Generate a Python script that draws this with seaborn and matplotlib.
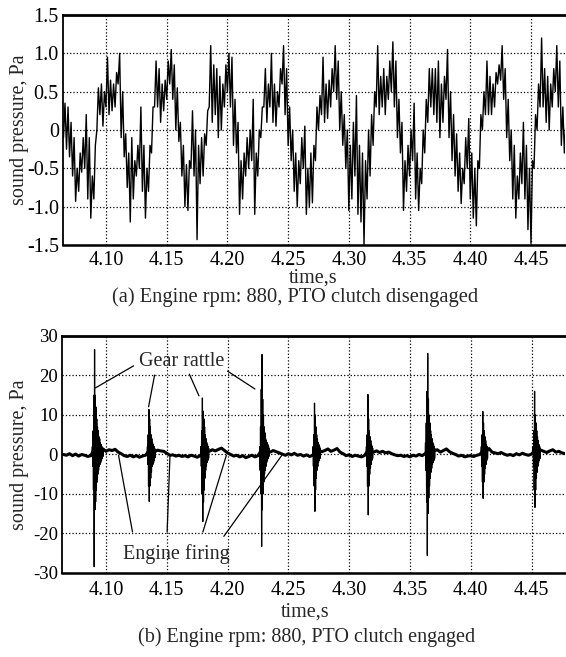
import numpy as np
import pandas as pd
import matplotlib
matplotlib.use("Agg")
import matplotlib.pyplot as plt
import seaborn as sns

# ---------------- values ----------------

# (a) PTO clutch disengaged: lower / upper edge of the trace band, every 2.5 ms from 4.065 s
t0_a = 4.065
dt_a = 0.0025
low_a = [-0.10, -0.25, -0.35, -0.60, -0.93, -0.80, -0.55, -0.50, -0.90, -1.15,
         -0.90, 0.00, 0.20, 0.05, 0.30, 0.20, 0.25, 0.30, 0.60, -0.10,
         -0.35, -0.75, -1.20, -0.90, -0.60, -0.50, -0.80, -1.15, -0.80, -0.30,
         0.30, 0.30, 0.10, 0.25, 0.40, 0.60, 0.40, 0.00, -0.15, -0.60,
         -1.00, -1.05, -0.50, -0.60, -1.43, -0.70, -0.60, -0.20, 0.30, 0.10,
         0.20, -0.10, 0.00, 0.30, 0.50, 0.30, -0.20, -0.30, -1.10, -0.90,
         -0.60, -0.50, -0.40, -1.10, -0.60, -0.10, 0.30, 0.10, 0.30, 0.10,
         0.05, 0.30, 0.60, 0.20, -0.20, -0.40, -0.80, -1.00, -0.70, -0.50,
         -1.10, -1.00, -0.95, -0.40, 0.00, 0.20, 0.10, 0.15, 0.30, 0.50,
         0.40, 0.00, -0.20, -0.50, -1.05, -0.90, -0.60, -1.10, -1.20, -1.50,
         -0.90, -0.60, -0.20, 0.30, 0.20, 0.30, 0.20, 0.40, 0.50, 0.30,
         -0.10, -0.30, -1.05, -0.80, -0.60, -0.40, -0.90, -1.05, -0.70, -0.30,
         0.10, 0.30, 0.20, 0.10, -0.10, 0.10, 0.40, -0.10, -0.40, -0.60,
         -0.80, -0.96, -0.70, -0.50, -0.90, -1.15, -1.25, -0.50, 0.00, 0.20,
         0.20, 0.20, 0.30, 0.60, 0.65, 0.40, -0.10, -0.40, -0.90, -1.15,
         -0.90, -0.70, -0.90, -1.30, -1.48, -0.50, 0.00, 0.30, 0.30, 0.10,
         0.00, 0.30, 0.50, 0.30, -0.20, -0.30]
high_a = [0.35, 0.30, 0.10, -0.10, -0.50, -0.30, -0.10, 0.20, -0.10, -0.60,
          -0.20, 0.55, 0.60, 0.50, 0.95, 0.65, 0.60, 0.75, 1.00, 0.50,
          -0.05, -0.30, -0.10, -0.40, -0.20, 0.30, -0.20, -0.50, -0.20, 0.30,
          0.90, 0.80, 0.60, 0.65, 0.90, 1.05, 0.85, 0.55, 0.10, -0.20,
          -0.45, -0.40, 0.25, 0.00, -0.20, -0.10, -0.05, 0.25, 1.10, 0.85,
          0.80, 0.70, 0.60, 0.85, 1.00, 0.95, 0.40, 0.10, -0.40, -0.30,
          -0.10, 0.00, 0.40, -0.30, 0.00, 0.30, 0.80, 0.60, 1.00, 0.60,
          0.50, 0.80, 1.10, 0.80, 0.30, 0.00, -0.30, -0.40, -0.10, 0.05,
          -0.50, -0.30, -0.20, 0.30, 0.45, 0.95, 0.60, 0.65, 0.80, 1.10,
          0.90, 0.50, 0.20, 0.00, -0.20, 0.10, 0.45, -0.20, -0.30, -0.40,
          0.00, 0.20, 0.50, 1.10, 0.70, 0.80, 0.70, 0.90, 1.15, 0.90,
          0.40, 0.10, -0.40, -0.20, 0.00, 0.35, -0.30, -0.50, 0.00, 0.40,
          0.80, 0.80, 0.80, 0.90, 0.60, 0.70, 1.05, 0.50, 0.20, -0.05,
          -0.30, -0.50, -0.10, 0.15, -0.30, -0.50, -0.40, 0.20, 0.50, 0.90,
          0.70, 0.60, 0.75, 0.85, 1.10, 0.80, 0.40, 0.00, -0.20, -0.60,
          -0.30, 0.10, -0.20, -0.50, -0.40, 0.20, 0.60, 1.20, 0.80, 0.70,
          0.60, 0.80, 1.10, 0.90, 0.30, 0.10]

# (b) PTO clutch engaged: slow baseline every 2.5 ms from 4.065 s
base_b = [0.0, -0.2, 0.2, -0.3, 0.1, -0.4, 0.0, -0.2, -0.5, -0.3,
          1.2, 1.5, 1.0, 1.4, 0.8, 1.2, 1.0, 1.3, 0.6, 0.2,
          -0.3, -0.5, -0.2, -0.6, -0.3, -0.7, -0.4, -0.2,
          0.8, 1.0, 0.7, 1.1, 0.9, 0.8, 0.3, -0.2, -0.1, -0.4,
          -0.2, -0.5, -0.3, -0.6, -0.2, -0.4, -0.7, -0.3,
          0.6, 1.0, 0.8, 1.2, 0.9, 1.3, 1.6, 1.0, 0.4, 0.0,
          -0.4, -0.2, -0.6, -0.3, -0.8, -0.5, -0.2, -0.6, -0.3,
          0.9, 1.2, 0.8, 0.6, 1.0, 0.7, 0.4, 0.1, -0.2, 0.2,
          -0.1, 0.3, -0.2, 0.0, -0.4, -0.1, -0.5, -0.2,
          0.9, 1.1, 0.7, 1.0, 1.4, 0.8, 1.1, 1.5, 0.6, 0.2,
          -0.3, -0.1, -0.5, -0.2, -0.4, -0.6, -0.3,
          0.8, 1.0, 0.6, 0.9, 0.5, 0.8, 0.4, 0.6, 0.2, -0.1, -0.3,
          -0.2, -0.5, -0.3, -0.6, -0.2, -0.4, 0.0, -0.3, 0.2,
          1.0, 1.3, 0.9, 1.2, 0.6, 1.0, 1.4, 0.7, 0.3, 0.0, -0.4,
          -0.2, -0.6, -0.4, -0.3, -0.5, -0.2, 0.0,
          1.0, 0.8, 1.5, 0.6, 0.4, 0.2, 0.5, 0.1, -0.2, 0.0, -0.3,
          0.2, -0.1, 0.3, 0.0, -0.2, 0.1,
          1.0, 0.7, 1.1, 0.8, 0.5, 0.9, 1.2, 0.6, 0.8, 0.4, 0.2]

# gear rattle bursts: start time and samples every 0.3 ms
dt_burst = 0.0003
burst_start = [4.0885, 4.1338, 4.1778, 4.2262, 4.2700, 4.3139, 4.3625, 4.4084, 4.4510]
burst_1 = [0, 2, -3, 6, -9, 15, -28.4, 26.6, -14, 15, -12, 12, -9, 9, -7, 7, -5, 6,
           -4, 4.5, -3, 4, -2.5, 3, -2, 2.5, -1.5, 2, -1, 1.5, -0.5, 1.2]
burst_2 = [0, 2, -2.5, 5, -8, 11.4, -11.9, 9, -8, 7, -6, 5, -4.5, 4, -3, 3, -2.5, 2.5,
           -2, 2, -1.5, 1.5, -0.8, 1.2]
burst_3 = [0, 2, -3, 6, -10, 14.3, -17, 11, -12, 9, -9, 7, -6, 5, -4, 4, -3, 3,
           -2, 2.5, -1.5, 2, -1, 1.5]
burst_4 = [0, 2, -4, 7, -10, 16.5, -23.3, 25.3, -14, 14, -10, 10, -7, 7, -5, 5.5, -4, 4,
           -3, 3.5, -2, 3, -1.5, 2.5, -1, 2, -0.5, 1.5]
burst_5 = [0, 2, -3, 5, -8, 13, -14.4, 10, -9, 7, -6, 5, -4, 4, -3, 3, -2, 2.5,
           -1.5, 2, -1, 1.5]
burst_6 = [0, 2, -3, 5, -8, 15.2, -15.3, 9, -8, 6, -5, 4.5, -3.5, 3.5, -2.5, 2.5, -1.5, 2,
           -1, 1.5]
burst_7 = [0, 3, -4, 8, -12, 16, -25.6, 25.6, -15, 14, -11, 10, -8, 8, -6, 6, -4.5, 5,
           -3.5, 4, -2.5, 3, -2, 2.5, -1.5, 2, -1, 1.5]
burst_8 = [0, 2, -3, 5, -7, 10.9, -11.1, 8, -7, 6, -5, 4.5, -3.5, 3.5, -2.5, 2.5, -1.5, 2,
           -1, 1.5]
burst_9 = [0, 2, -3, 6, -9, 16, -13.4, 10, -9, 8, -6, 6, -4.5, 4.5, -3, 3.5, -2, 2.5,
           -1.5, 2, -1, 1.5]
bursts = [burst_1, burst_2, burst_3, burst_4, burst_5, burst_6, burst_7, burst_8, burst_9]

ticks_a = [-1.5, -1.0, -0.5, 0, 0.5, 1.0, 1.5]
ticklabels_a = ["-1.5", "-1.0", "-0.5", "0", "0.5", "1.0", "1.5"]
ticks_b = [-30, -20, -10, 0, 10, 20, 30]
ticklabels_b = ["-30", "-20", "-10", "0", "10", "20", "30"]
ticks_t = [4.10, 4.15, 4.20, 4.25, 4.30, 4.35, 4.40, 4.45]
ticklabels_t = ["4.10", "4.15", "4.20", "4.25", "4.30", "4.35", "4.40", "4.45"]

# ---------------- build tables ----------------
k = np.arange(len(low_a))
t_a = t0_a + dt_a * k
df_a = pd.DataFrame({"time": np.concatenate([t_a, t_a + dt_a / 2]),
                     "p": np.concatenate([low_a, high_a])}).sort_values("time")

df_base = pd.DataFrame({"time": t0_a + dt_a * np.arange(len(base_b)), "p": base_b})

rows = []
for i, (start, vals) in enumerate(zip(burst_start, bursts)):
    for j, v in enumerate(vals):
        rows.append({"burst": i, "time": start + j * dt_burst, "p": v})
df_burst = pd.DataFrame(rows)

# ---------------- style ----------------
sns.set_style("white")
plt.rcParams["font.family"] = ["Liberation Serif", "DejaVu Serif"]
plt.rcParams["axes.unicode_minus"] = False
fs = 14.5

fig = plt.figure(figsize=(5.66, 6.57), dpi=100)
ax1 = fig.add_axes([0.1113, 0.6271, 0.8869, 0.3501])
ax2 = fig.add_axes([0.1095, 0.1279, 0.8887, 0.3607])

# (a) disengaged
sns.lineplot(data=df_a, x="time", y="p", ax=ax1, color="black", lw=1.0,
             estimator=None, sort=False)
ax1.set_xlim(4.0646, 4.478)
ax1.set_ylim(-1.5, 1.5)
ax1.set_yticks(ticks_a)
ax1.set_yticklabels(ticklabels_a)

# (b) engaged
sns.lineplot(data=df_base, x="time", y="p", ax=ax2, color="black", lw=2.2, estimator=None)
sns.lineplot(data=df_burst, x="time", y="p", units="burst", ax=ax2, color="black",
             lw=0.9, estimator=None, sort=False)
ax2.set_xlim(4.0638, 4.4775)
ax2.set_ylim(-30, 30)
ax2.set_yticks(ticks_b)
ax2.set_yticklabels(ticklabels_b)

for ax in (ax1, ax2):
    ax.set_xticks(ticks_t)
    ax.set_xticklabels(ticklabels_t)
    ax.set_xlabel("")
    ax.set_ylabel("")
    ax.grid(True, ls=":", color="black", lw=0.9)
    ax.set_axisbelow(True)
    ax.tick_params(length=0, labelsize=fs, colors="black")
    ax.spines["right"].set_visible(False)
    ax.spines["top"].set_linewidth(2.0)
    ax.spines["bottom"].set_linewidth(1.8)
    ax.spines["left"].set_linewidth(1.3)
    for s in ("top", "bottom", "left"):
        ax.spines[s].set_color("black")
ax1.tick_params(axis="x", pad=4)
ax1.tick_params(axis="y", pad=3)
ax2.tick_params(axis="x", pad=6)
ax2.tick_params(axis="y", pad=3, labelsize=13.5)

# callouts in (b)
ax2.text(4.1626, 23.5, "Gear rattle", fontsize=fs, ha="center", va="center")
for (xs, ys), (xe, ye) in [((4.1247, 22.8), (4.0893, 16.5)),
                           ((4.1404, 20.8), (4.1346, 11.4)),
                           ((4.1676, 21.0), (4.1774, 14.2)),
                           ((4.1980, 21.5), (4.2244, 16.2))]:
    ax2.annotate("", xy=(xe, ye), xytext=(xs, ys),
                 arrowprops=dict(arrowstyle="-", color="black", lw=0.9))

ax2.text(4.1577, -25.1, "Engine firing", fontsize=fs, ha="center", va="center")
for (xs, ys), (xe, ye) in [((4.1222, -20.3), (4.1099, 0.5)),
                           ((4.1502, -20.3), (4.1527, 0.3)),
                           ((4.1790, -20.3), (4.1997, 0.5)),
                           ((4.1956, -21.3), (4.2458, 0.3))]:
    ax2.annotate("", xy=(xe, ye), xytext=(xs, ys),
                 arrowprops=dict(arrowstyle="-", color="black", lw=0.9))

# axis titles and captions
fig.text(0.034, 0.802, "sound pressure, Pa", rotation=90, fontsize=fs, ha="center", va="center")
fig.text(0.034, 0.308, "sound pressure, Pa", rotation=90, fontsize=fs, ha="center", va="center")
fig.text(0.553, 0.577, "time,s", fontsize=fs, ha="center", va="center")
fig.text(0.540, 0.069, "time,s", fontsize=fs, ha="center", va="center")
fig.text(0.521, 0.548, "(a) Engine rpm: 880, PTO clutch disengaged", fontsize=14.8,
         ha="center", va="center")
fig.text(0.541, 0.031, "(b) Engine rpm: 880, PTO clutch engaged", fontsize=fs,
         ha="center", va="center")

fig.savefig("out.png", dpi=100)
